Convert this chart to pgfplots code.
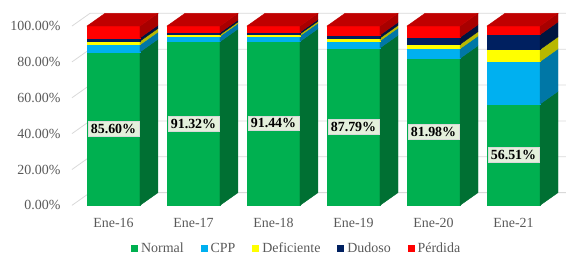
\documentclass[border=0pt]{standalone}
\usepackage{fontspec}
\setmainfont{Liberation Serif}
\usepackage{pgfplots}
\pgfplotsset{compat=1.18}
\usepackage{pgfplotstable}

\definecolor{cN}{HTML}{00B050}
\definecolor{cNs}{HTML}{007033}
\definecolor{cC}{HTML}{00B0F0}
\definecolor{cCs}{HTML}{0077A6}
\definecolor{cD}{HTML}{FFFF00}
\definecolor{cDs}{HTML}{B8B800}
\definecolor{cU}{HTML}{002060}
\definecolor{cUs}{HTML}{001540}
\definecolor{cP}{HTML}{FF0000}
\definecolor{cPs}{HTML}{A80000}
\definecolor{cPt}{HTML}{C00000}
\definecolor{gridc}{HTML}{D9D9D9}
\definecolor{tickc}{HTML}{595959}
\definecolor{lblbg}{HTML}{E4F0DC}

\pgfdeclareplotmark{void}{}

\pgfplotstableread{
x Normal CPP Def Dud Per
0 85.60 4.00 2.00 1.80 6.60
1 91.32 3.00 0.90 1.10 3.68
2 91.44 3.16 1.00 1.00 3.40
3 87.79 4.01 1.50 1.70 5.00
4 81.98 5.40 2.40 3.90 6.32
5 56.51 23.70 6.70 8.30 4.79
}\data

\pgfplotsset{
 seg/.style n args={3}{
   stack plots=y, scatter, only marks, mark=void, forget plot,
   point meta=explicit symbolic,
   scatter/@pre marker code/.code={%
     \begingroup
     \pgfkeys{/pgf/fpu=false}%
     \edef\h{\pgfplotspointmeta}%
     \pgfmathsetmacro\hh{-1.793*\h}%
     \fill[#1] (-26.5bp,\hh bp) rectangle (26.5bp,0bp);
     \fill[#2] (26.5bp,\hh bp) -- (44.5bp,{\hh bp+12.7bp}) -- (44.5bp,12.7bp) -- (26.5bp,0bp) -- cycle;
     #3
     \endgroup
   },
   scatter/@post marker code/.code={},
 },
}

\begin{document}
\begin{tikzpicture}
\begin{axis}[
  x=80bp, y=1.793bp,
  xmin=-0.519, xmax=5.45, ymin=0, ymax=100,
  clip=false,
  axis line style={draw=none},
  major tick style={draw=none},
  xtick={0,1,2,3,4,5},
  xticklabels={Ene-16,Ene-17,Ene-18,Ene-19,Ene-20,Ene-21},
  ytick={0,20,40,60,80,100},
  yticklabels={0.00\%,20.00\%,40.00\%,60.00\%,80.00\%,100.00\%},
  tick label style={font=\fontsize{14}{16}\selectfont, text=tickc},
  yticklabel style={xshift=-8bp},
  xticklabel style={yshift=-9bp},
  legend columns=5,
  legend style={draw=none, fill=none, at={(0.4702,-0.24)}, anchor=center,
    font=\fontsize{14}{16}\selectfont, text=tickc,
    /tikz/every odd column/.append style={column sep=2bp},
    /tikz/every even column/.append style={column sep=15.5bp},
    nodes={inner sep=1.5bp}},
]
\pgfplotsinvokeforeach{0,20,40,60,80,100}{
  \draw[gridc, line width=0.8bp] (axis cs:-0.519,#1) -- ++(18bp,12.7bp) -- ([shift={(18bp,12.7bp)}]axis cs:5.45,#1);
}

\addplot[seg={cN}{cNs}{\node[fill=lblbg, draw=gridc, line width=0.4bp, font=\fontsize{14}{16}\selectfont\bfseries, inner xsep=3bp, inner ysep=2.5bp] at (0bp,{\hh bp/2}) {\h\%};}] table[x=x, y=Normal, meta=Normal] {\data};
\addplot[seg={cC}{cCs}{}] table[x=x, y=CPP, meta=CPP] {\data};
\addplot[seg={cD}{cDs}{}] table[x=x, y=Def, meta=Def] {\data};
\addplot[seg={cU}{cUs}{}] table[x=x, y=Dud, meta=Dud] {\data};
\addplot[seg={cP}{cPs}{\fill[cPt] (-26.5bp,0bp) -- (-8.5bp,12.7bp) -- (44.5bp,12.7bp) -- (26.5bp,0bp) -- cycle;}] table[x=x, y=Per, meta=Per] {\data};

\addlegendimage{legend image code/.code={\fill[cN] (0bp,-3bp) rectangle (6bp,3bp);}}
\addlegendentry{Normal}
\addlegendimage{legend image code/.code={\fill[cC] (0bp,-3bp) rectangle (6bp,3bp);}}
\addlegendentry{CPP}
\addlegendimage{legend image code/.code={\fill[cD] (0bp,-3bp) rectangle (6bp,3bp);}}
\addlegendentry{Deficiente}
\addlegendimage{legend image code/.code={\fill[cU] (0bp,-3bp) rectangle (6bp,3bp);}}
\addlegendentry{Dudoso}
\addlegendimage{legend image code/.code={\fill[cP] (0bp,-3bp) rectangle (6bp,3bp);}}
\addlegendentry{Pérdida}

\coordinate (bl) at (axis cs:-1.41875,-27.374);
\coordinate (tr) at (axis cs:5.65625,114.525);
\end{axis}
\pgfresetboundingbox
\path[use as bounding box] (bl) rectangle (tr);
\end{tikzpicture}
\end{document}
